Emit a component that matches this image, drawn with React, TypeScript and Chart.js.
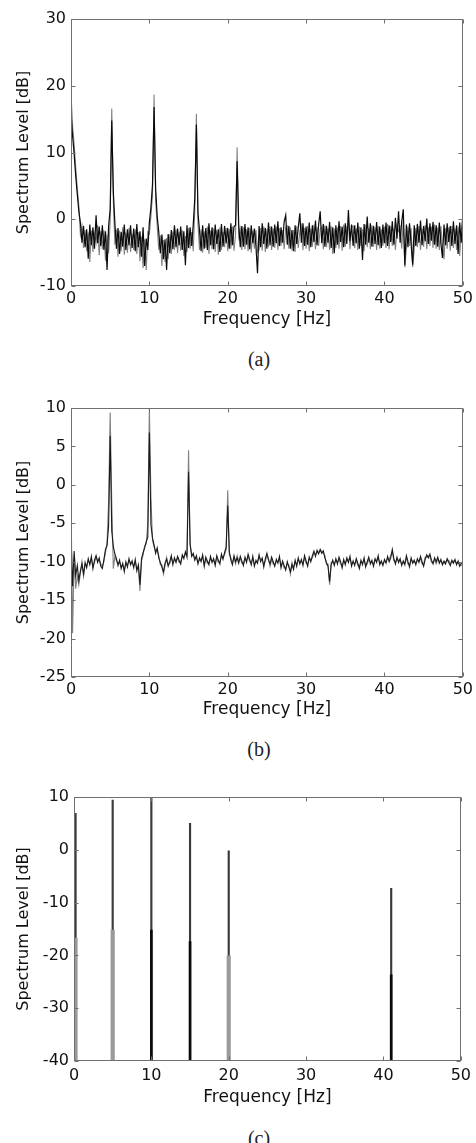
import { useEffect, useRef } from "react";
import { Chart, registerables } from "chart.js";

Chart.register(...registerables);

// ---- spectrum data (dB), one value per 0.2 Hz bin from 0 to 50 Hz ----
const BIN_HZ = 0.2;

// (a) measured spectrum, two overlaid estimates
const A_BLACK = [
  15.9, 12.5, 9.8, 6.5, 3.8, 1.2, -0.5, -3.5, -1.0, -4.2,
  -1.5, -5.9, -0.8, -3.9, -1.2, -4.4, 0.6, -3.6, -1.1, -4.0,
  -0.9, -4.6, -1.8, -7.6, -1.0, 1.5, 14.8, 4.2, -0.6, -4.4,
  -1.3, -5.2, -1.9, -4.1, -0.8, -4.6, -1.5, -3.9, -0.9, -4.3,
  -1.4, -4.8, -0.7, -4.2, -1.8, -5.6, -1.2, -7.0, -2.9, -4.6,
  -0.5, 1.8, 5.2, 16.8, 4.6, 0.4, -1.9, -5.1, -2.3, -6.0,
  -3.0, -7.6, -2.2, -5.1, -1.6, -4.5, -0.9, -4.2, -1.4, -3.9,
  -1.1, -4.6, -1.8, -6.9, -0.9, -4.3, -1.2, -4.0, -0.8, 3.2,
  14.2, 1.0, -1.7, -4.8, -0.9, -4.4, -1.3, -4.6, -0.6, -3.9,
  -1.2, -4.5, -0.8, -3.7, -1.5, -4.9, -0.7, -4.1, -1.0, -3.6,
  -1.3, -4.4, -0.6, -3.9, -1.1, -0.9, 8.7, -0.8, -4.2, -1.0,
  -4.1, -0.7, -3.8, -1.2, -4.5, -0.9, -3.6, -1.4, -4.0, -8.1,
  -1.0, -4.2, -0.6, -3.7, -1.3, -4.4, -0.5, -3.9, -1.1, -4.1,
  -0.8, -3.6, -0.3, -4.0, -1.2, -3.5, -0.4, 0.6, -3.8, -1.0,
  -4.4, -1.6, -4.8, -0.9, -3.7, -1.3, 0.9, -3.5, -0.6, -4.0,
  -1.1, -3.8, -0.5, -4.2, -0.9, -3.4, -0.2, -3.9, -0.8, 1.2,
  -3.6, -0.7, -4.1, -1.0, -3.5, -0.4, -4.3, -1.2, -5.1, -0.9,
  -3.8, -0.3, -3.4, -1.1, -4.2, -0.6, -3.7, 1.4, -3.3, -0.8,
  -4.0, -0.9, -3.6, -0.5, -4.4, -1.2, -6.1, -0.7, -3.8, 0.4,
  -3.5, -0.6, -4.1, -1.0, -3.7, -0.4, -3.9, -1.1, -4.3, -0.8,
  -3.6, -0.5, -4.0, -0.9, -3.4, -0.3, -3.8, 0.2, -2.9, 1.2,
  -3.5, -0.4, 1.5, -6.9, -0.8, -4.2, -0.6, -3.7, -6.8, -0.9,
  -4.0, -0.7, -3.5, -0.2, -3.9, -1.0, -3.3, 0.1, -3.7, -0.6,
  -3.2, -0.4, -3.8, -0.9, -4.1, -0.5, -3.6, -5.8, -0.8, -3.9,
  -0.6, -3.4, -1.0, -4.0, -0.3, -3.7, -0.9, -5.2, -0.5, -3.5,
  0.3,
];

const A_GRAY = [
  18.9, 14.0, 11.2, 7.8, 4.6, 2.0, -2.3, -1.0, -4.3, -1.6,
  -4.8, -2.0, -6.4, -1.7, -4.9, -2.2, -3.5, -0.9, -5.4, -1.8,
  -4.5, -1.6, -6.2, -2.3, -5.1, -0.2, 16.6, 2.8, -3.8, -1.5,
  -5.6, -1.7, -4.8, -1.2, -5.3, -2.0, -5.0, -1.3, -4.9, -2.2,
  -4.6, -1.5, -5.2, -1.9, -6.3, -2.6, -7.3, -3.0, -7.6, -1.9,
  -2.2, 0.5, 3.6, 18.7, 2.9, -1.0, -4.6, -2.4, -7.0, -3.1,
  -6.4, -2.8, -6.0, -2.3, -5.2, -1.8, -4.6, -1.5, -5.1, -1.9,
  -4.7, -1.6, -5.5, -2.5, -4.9, -1.3, -4.4, -1.9, -4.8, 1.6,
  15.8, -0.6, -4.6, -1.5, -5.0, -1.8, -4.3, -1.1, -5.2, -1.7,
  -4.5, -1.4, -4.9, -1.6, -5.3, -1.2, -4.6, -1.9, -4.2, -1.3,
  -4.8, -1.5, -4.4, -1.1, -4.7, -2.3, 10.8, -2.6, -1.4, -4.6,
  -1.2, -4.5, -1.5, -4.8, -1.3, -5.0, -1.7, -4.4, -1.6, -4.9,
  -4.6, -1.3, -4.7, -1.1, -4.9, -1.5, -4.2, -1.0, -4.6, -1.4,
  -4.3, -1.1, -4.6, -1.3, -4.0, -1.6, -4.5, -1.2, -1.0, -4.4,
  -1.2, -4.7, -1.6, -4.9, -1.0, -4.3, -1.8, -0.9, -4.6, -1.3,
  -4.4, -1.0, -4.8, -1.4, -4.1, -0.8, -4.5, -1.2, -4.0, -1.5,
  -1.1, -4.5, -0.9, -4.2, -1.3, -4.6, -1.0, -5.2, -1.4, -4.3,
  -1.2, -4.4, -1.0, -4.7, -0.8, -4.1, -1.1, -0.6, -4.5, -1.2,
  -1.0, -4.3, -1.4, -4.6, -1.1, -4.0, -1.5, -4.8, -0.8, -4.2,
  -1.3, -4.5, -0.9, -4.1, -1.2, -4.6, -1.0, -4.4, -1.5, -4.0,
  -1.1, -4.3, -0.7, -4.5, -1.0, -4.0, -1.4, -4.6, -0.9, -1.8,
  -1.2, -4.4, -0.2, -7.2, -4.3, -1.1, -4.0, -1.3, -7.2, -4.5,
  -1.3, -4.2, -1.0, -4.6, -1.4, -4.1, -0.9, -4.5, -1.2, -4.0,
  -1.1, -4.3, -0.8, -4.4, -1.2, -4.6, -1.0, -4.2, -6.0, -1.3,
  -4.4, -1.2, -4.7, -1.0, -4.3, -1.4, -4.6, -1.1, -5.5, -1.6,
  0.5,
];

// (b) smoothed spectrum, two overlaid estimates
const B_BLACK = [
  -6.5, -13.2, -8.6, -11.8, -10.5, -12.4, -11.2, -10.3, -11.6, -10.1,
  -10.8, -9.6, -10.4, -9.3, -10.9, -9.8, -9.2, -10.1, -9.5, -10.6,
  -10.9, -9.7, -8.4, -7.9, -5.3, 6.4, -6.0, -8.0, -9.0, -9.6,
  -10.5, -9.8, -10.9, -10.2, -11.3, -10.0, -10.7, -9.6, -10.4, -9.9,
  -10.8, -9.7, -11.2, -10.4, -13.0, -9.6, -8.8, -8.2, -7.4, -6.8,
  6.8, -5.2, -6.9, -7.8, -8.9, -8.2, -9.5, -10.1, -10.7, -11.3,
  -10.2, -9.7, -10.6, -10.0, -9.2, -10.4, -9.5, -10.1, -9.3, -9.8,
  -10.3, -9.1, -9.6, -8.7, -9.4, 1.7, -7.6, -9.3, -8.9, -9.8,
  -9.2, -10.3, -9.5, -10.0, -9.1, -10.6, -9.4, -9.9, -10.4, -9.3,
  -10.1, -9.6, -10.5, -9.2, -9.8, -10.3, -9.0, -9.7, -8.8, -8.1,
  -2.7, -8.7, -9.8, -10.4, -9.2, -10.0, -9.5, -10.2, -9.3, -9.9,
  -10.5, -9.4, -10.1, -9.0, -9.7, -10.4, -9.3, -10.6, -9.8, -10.2,
  -9.1, -10.0, -9.5, -10.7, -9.6, -8.9, -9.8, -10.3, -9.4, -10.0,
  -10.6, -9.7, -10.2, -9.3, -10.8, -9.9, -10.5, -11.1, -10.0, -10.7,
  -11.3, -10.4, -11.0, -9.8, -10.6, -9.5, -10.3, -9.7, -10.5, -9.2,
  -9.9, -10.6, -9.4, -10.0, -9.2, -8.6, -9.3, -8.5, -9.0, -8.4,
  -8.9, -8.6, -9.5, -10.1, -10.6, -12.6, -10.4, -9.8, -10.5, -9.6,
  -10.3, -9.4, -10.0, -10.8, -9.7, -10.4, -9.5, -10.1, -9.3, -10.6,
  -9.9, -10.5, -9.6, -10.2, -10.9, -9.8, -10.4, -9.5, -10.7, -10.0,
  -9.4, -10.3, -9.8, -10.6, -9.6, -10.1, -9.2, -10.4, -9.9, -10.5,
  -9.7, -10.2, -9.3, -10.0, -9.5, -8.4, -9.6, -10.3, -9.4, -10.1,
  -9.6, -10.5, -9.9, -10.4, -9.2, -10.0, -10.7, -9.5, -10.2, -9.8,
  -10.4, -9.6, -10.1, -9.3, -10.0, -10.6, -9.7, -9.1, -9.5, -9.0,
  -9.8, -10.3, -9.5, -10.0, -9.4, -10.2, -9.7, -10.4, -9.9, -10.3,
  -9.6, -10.1, -10.5, -9.8, -10.2, -9.7, -10.4, -9.9, -10.6, -10.2,
  -10.0,
];

const B_GRAY = [
  -1.5, -19.3, -9.5, -13.5, -11.8, -13.0, -11.5, -10.0, -11.9, -10.4,
  -10.5, -9.9, -10.2, -9.6, -10.6, -10.1, -9.4, -9.8, -9.8, -10.3,
  -10.6, -10.0, -8.8, -7.5, -2.3, 9.4, -2.2, -10.9, -9.3, -9.9,
  -10.2, -10.1, -10.6, -10.5, -11.0, -10.3, -10.4, -9.9, -10.1, -10.2,
  -10.5, -10.0, -10.9, -10.7, -13.8, -9.9, -9.1, -7.9, -7.7, -5.0,
  10.0, -1.6, -7.2, -8.1, -8.6, -8.5, -9.2, -10.4, -10.4, -11.6,
  -10.5, -9.4, -10.3, -10.3, -9.5, -10.1, -9.8, -9.8, -9.6, -10.1,
  -10.0, -9.4, -9.3, -9.0, -9.1, 4.5, -7.9, -9.0, -9.2, -9.5,
  -9.5, -10.0, -9.8, -9.7, -9.4, -10.3, -9.7, -10.2, -10.1, -9.6,
  -9.8, -9.9, -10.2, -9.5, -10.1, -10.0, -9.3, -9.4, -9.1, -8.4,
  -0.7, -9.0, -9.5, -10.1, -9.5, -10.3, -9.2, -9.9, -9.6, -10.2,
  -10.2, -9.7, -9.8, -9.3, -10.0, -10.1, -9.6, -10.3, -10.1, -9.9,
  -9.4, -9.7, -9.8, -10.4, -9.9, -9.2, -9.5, -10.6, -9.7, -10.3,
  -10.3, -10.0, -9.9, -9.6, -10.5, -10.2, -10.8, -10.8, -10.3, -10.4,
  -11.6, -10.1, -10.7, -10.1, -10.3, -9.8, -10.0, -10.0, -10.2, -9.5,
  -10.2, -10.3, -9.7, -9.7, -9.5, -8.9, -9.0, -8.8, -8.7, -8.7,
  -8.6, -8.9, -9.2, -10.4, -10.3, -13.0, -10.1, -10.1, -10.2, -9.9,
  -10.0, -9.7, -10.3, -10.5, -10.0, -10.1, -9.8, -9.8, -9.6, -10.3,
  -10.2, -10.2, -9.9, -10.5, -10.6, -10.1, -10.1, -9.8, -10.4, -10.3,
  -9.7, -10.0, -10.1, -10.3, -9.9, -9.8, -9.5, -10.1, -10.2, -10.2,
  -10.0, -9.9, -9.6, -9.7, -9.2, -8.7, -9.9, -10.0, -9.7, -9.8,
  -9.9, -10.2, -10.2, -10.1, -9.5, -10.3, -10.4, -9.8, -9.9, -10.1,
  -10.1, -9.9, -9.8, -9.6, -10.3, -10.3, -9.4, -9.4, -9.2, -9.3,
  -10.1, -10.0, -9.8, -10.3, -9.7, -9.9, -10.0, -10.1, -10.2, -10.0,
  -9.9, -9.8, -10.2, -10.1, -9.9, -10.0, -10.1, -10.2, -10.3, -10.5,
  -10.3,
];

// (c) line spectrum: stem frequencies and levels
const C_FREQ = [0.2, 5, 10, 15, 20, 41];
const C_PEAK = [6.9, 9.4, 10, 5.0, -0.2, -7.3];
const C_GRAY_FREQ = [0.2, 5, 20];
const C_GRAY_LEVEL = [-16.7, -15.2, -20.1];
const C_BLACK_FREQ = [10, 15, 41];
const C_BLACK_LEVEL = [-15.2, -17.4, -23.7];

// axis ticks
const X_TICKS = [0, 10, 20, 30, 40, 50];
const A_Y_TICKS = [-10, 0, 10, 20, 30];
const B_Y_TICKS = [-25, -20, -15, -10, -5, 0, 5, 10];
const C_Y_TICKS = [-40, -30, -20, -10, 0, 10];

const X_TITLE = "Frequency [Hz]";
const Y_TITLE = "Spectrum Level [dB]";

// ---- styling ----
const PAGE_W = 476;
const FONT = "'DejaVu Sans', 'Liberation Sans', Arial, sans-serif";
const TEXT_COLOR = "#111111";
const FRAME_COLOR = "#707070";
const BLACK = "#0a0a0a";
const GRAY = "#808080";
const TICK_LEN = 4;

const toPoints = (values: number[]) =>
  values.map((v, i) => ({ x: Math.round(i * BIN_HZ * 10) / 10, y: v }));

// box around the plot area with inward tick marks on all four sides
const framePlugin = {
  id: "frame",
  afterDraw(chart: any) {
    const { ctx, chartArea, scales } = chart;
    const L = Math.round(chartArea.left) + 0.5;
    const R = Math.round(chartArea.right) - 0.5;
    const T = Math.round(chartArea.top) + 0.5;
    const B = Math.round(chartArea.bottom) - 0.5;
    ctx.save();
    ctx.strokeStyle = FRAME_COLOR;
    ctx.lineWidth = 1;
    ctx.strokeRect(L, T, R - L, B - T);
    ctx.beginPath();
    scales.x.ticks.forEach((t: any) => {
      const px = Math.round(scales.x.getPixelForValue(t.value)) + 0.5;
      ctx.moveTo(px, B);
      ctx.lineTo(px, B - TICK_LEN);
      ctx.moveTo(px, T);
      ctx.lineTo(px, T + TICK_LEN);
    });
    scales.y.ticks.forEach((t: any) => {
      const py = Math.round(scales.y.getPixelForValue(t.value)) + 0.5;
      ctx.moveTo(L, py);
      ctx.lineTo(L + TICK_LEN, py);
      ctx.moveTo(R, py);
      ctx.lineTo(R - TICK_LEN, py);
    });
    ctx.stroke();
    ctx.restore();
  },
};

type Panel = {
  top: number; // canvas top on the page
  height: number; // canvas height
  plotLeft: number;
  plotRight: number;
  plotTop: number;
  plotBottom: number;
  xTickPad: number;
  xTitleY: number;
  yMin: number;
  yMax: number;
  yTicks: number[];
  datasets: any[];
  caption: string;
  captionY: number;
};

const TICK_FONT = { family: FONT, size: 16 };
const X_TITLE_FONT = { family: FONT, size: 17 };
const Y_TITLE_FONT = { family: FONT, size: 16 };

function buildConfig(p: Panel) {
  const xAxisH = p.top + p.height - p.plotBottom;
  const xTitlePad = p.top + p.height - p.xTitleY - (X_TITLE_FONT.size * 1.2) / 2;
  return {
    type: "line",
    data: { datasets: p.datasets },
    options: {
      responsive: false,
      animation: false,
      devicePixelRatio: 1,
      layout: {
        padding: { left: 0, right: PAGE_W - p.plotRight, top: p.plotTop - p.top, bottom: 0 },
      },
      plugins: { legend: { display: false }, tooltip: { enabled: false } },
      elements: { point: { radius: 0 }, line: { tension: 0 } },
      scales: {
        x: {
          type: "linear",
          min: 0,
          max: 50,
          offset: false,
          grid: { display: false, drawTicks: false },
          border: { display: false },
          afterBuildTicks: (ax: any) => {
            ax.ticks = X_TICKS.map((v) => ({ value: v }));
          },
          afterFit: (ax: any) => {
            ax.height = xAxisH;
          },
          ticks: {
            padding: p.xTickPad,
            color: TEXT_COLOR,
            font: TICK_FONT,
            maxRotation: 0,
            autoSkip: false,
          },
          title: {
            display: true,
            text: X_TITLE,
            color: TEXT_COLOR,
            font: X_TITLE_FONT,
            padding: { top: 0, bottom: xTitlePad },
          },
        },
        y: {
          type: "linear",
          min: p.yMin,
          max: p.yMax,
          grid: { display: false, drawTicks: false },
          border: { display: false },
          afterBuildTicks: (ax: any) => {
            ax.ticks = p.yTicks.map((v) => ({ value: v }));
          },
          afterFit: (ax: any) => {
            ax.width = p.plotLeft;
          },
          ticks: { padding: 5, color: TEXT_COLOR, font: TICK_FONT, autoSkip: false },
          title: {
            display: true,
            text: Y_TITLE,
            color: TEXT_COLOR,
            font: Y_TITLE_FONT,
            padding: { top: 14, bottom: 0 },
          },
        },
      },
    },
    plugins: [framePlugin],
  };
}

const lineSet = (values: number[], color: string, width: number) => ({
  type: "line",
  data: toPoints(values),
  borderColor: color,
  borderWidth: width,
  pointRadius: 0,
  fill: false,
});

const stemSet = (freqs: number[], levels: number[], color: string, width: number) => ({
  type: "bar",
  data: freqs.map((f, i) => ({ x: f, y: [-40, levels[i]] })),
  backgroundColor: color,
  borderWidth: 0,
  barThickness: width,
  grouped: false,
});

const PANELS: Panel[] = [
  {
    top: 0,
    height: 340,
    plotLeft: 71,
    plotRight: 465,
    plotTop: 19,
    plotBottom: 286,
    xTickPad: 3,
    xTitleY: 319.5,
    yMin: -10,
    yMax: 30,
    yTicks: A_Y_TICKS,
    datasets: [lineSet(A_BLACK, BLACK, 1.2), lineSet(A_GRAY, GRAY, 1.1)],
    caption: "(a)",
    captionY: 359,
  },
  {
    top: 390,
    height: 340,
    plotLeft: 71,
    plotRight: 465,
    plotTop: 408,
    plotBottom: 677,
    xTickPad: 3,
    xTitleY: 710,
    yMin: -25,
    yMax: 10,
    yTicks: B_Y_TICKS,
    datasets: [lineSet(B_BLACK, "#1a1a1a", 1.1), lineSet(B_GRAY, GRAY, 1.1)],
    caption: "(b)",
    captionY: 749,
  },
  {
    top: 780,
    height: 340,
    plotLeft: 74,
    plotRight: 465,
    plotTop: 797,
    plotBottom: 1061,
    xTickPad: 5,
    xTitleY: 1098,
    yMin: -40,
    yMax: 10,
    yTicks: C_Y_TICKS,
    datasets: [
      stemSet(C_BLACK_FREQ, C_BLACK_LEVEL, BLACK, 2),
      stemSet(C_GRAY_FREQ, C_GRAY_LEVEL, "#9a9a9a", 3.5),
      stemSet(C_FREQ, C_PEAK, "#3a3a3a", 1.5),
    ],
    caption: "(c)",
    captionY: 1138,
  },
];

function SpectrumPanel({ panel }: { panel: Panel }) {
  const ref = useRef<HTMLCanvasElement | null>(null);
  useEffect(() => {
    if (!ref.current) return;
    const chart = new Chart(ref.current, buildConfig(panel) as any);
    return () => chart.destroy();
  }, [panel]);
  return (
    <>
      <canvas
        ref={ref}
        width={PAGE_W}
        height={panel.height}
        style={{ position: "absolute", left: 0, top: panel.top, width: PAGE_W, height: panel.height }}
      />
      <div
        style={{
          position: "absolute",
          left: 209,
          width: 100,
          top: panel.captionY - 12,
          height: 24,
          lineHeight: "24px",
          textAlign: "center",
          fontFamily: "'Liberation Serif', 'Times New Roman', serif",
          fontSize: 20,
          color: "#222",
        }}
      >
        {panel.caption}
      </div>
    </>
  );
}

export default function App() {
  return (
    <div
      style={{
        position: "absolute",
        left: 0,
        top: 0,
        width: PAGE_W,
        height: 1143,
        overflow: "hidden",
        background: "#fff",
      }}
    >
      {PANELS.map((p) => (
        <SpectrumPanel key={p.caption} panel={p} />
      ))}
    </div>
  );
}
